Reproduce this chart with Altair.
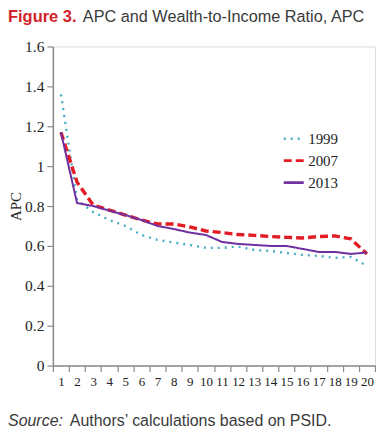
import altair as alt
import pandas as pd

deciles = list(range(1, 21))
years = ["1999", "2007", "2013"]
apc_1999 = [1.36, 0.83, 0.77, 0.73, 0.70, 0.655, 0.63, 0.617, 0.605, 0.59,
            0.59, 0.597, 0.58, 0.575, 0.565, 0.555, 0.55, 0.54, 0.545, 0.50]
apc_2007 = [1.17, 0.92, 0.805, 0.78, 0.755, 0.73, 0.71, 0.71, 0.695, 0.675,
            0.667, 0.657, 0.653, 0.647, 0.643, 0.64, 0.647, 0.65, 0.635, 0.56]
apc_2013 = [1.17, 0.815, 0.80, 0.777, 0.755, 0.73, 0.70, 0.685, 0.667, 0.655,
            0.62, 0.61, 0.605, 0.60, 0.60, 0.585, 0.57, 0.57, 0.56, 0.567]
y_ticks = [0, 0.2, 0.4, 0.6, 0.8, 1, 1.2, 1.4, 1.6]

rows = []
for yr, vals in zip(years, [apc_1999, apc_2007, apc_2013]):
    for d, v in zip(deciles, vals):
        rows.append({"decile": d, "APC": v, "year": yr})
df = pd.DataFrame(rows)

colors = ["#4bacc6", "#e31b23", "#7030a0"]
dashes = [[2, 5], [8, 4], [1, 0]]
widths = [2.4, 3.4, 2]

SERIF = "Liberation Serif"
SANS = "Liberation Sans"

base = alt.Chart(df).encode(
    x=alt.X("decile:O",
            scale=alt.Scale(paddingInner=0, paddingOuter=0),
            axis=alt.Axis(title=None, labelAngle=0, tickBand="extent",
                          labelFont=SERIF, labelFontSize=13, labelColor="#222",
                          domainColor="#8a8a8a", domainWidth=1.5,
                          tickColor="#8a8a8a", tickWidth=1.2, tickSize=6,
                          labelPadding=4)),
    y=alt.Y("APC:Q",
            scale=alt.Scale(domain=[0, 1.6], nice=False, zero=True),
            axis=alt.Axis(title="APC", values=y_ticks, grid=False,
                          labelExpr="'' + datum.value",
                          labelFont=SERIF, labelFontSize=15.5, labelColor="#222",
                          titleFont=SERIF, titleFontSize=15, titleFontWeight="normal",
                          titleColor="#222", titleX=-37.5, titleBaseline="middle",
                          domainColor="#8a8a8a", domainWidth=1.5,
                          tickColor="#8a8a8a", tickWidth=1.2, tickSize=6,
                          labelPadding=3)),
    color=alt.Color("year:N", scale=alt.Scale(domain=years, range=colors),
                    legend=alt.Legend(title=None, orient="none", legendX=230, legendY=81,
                                      symbolType="stroke", symbolSize=400,
                                      symbolStrokeWidth=2.6,
                                      labelFont=SERIF, labelFontSize=15,
                                      labelColor="#222", rowPadding=2,
                                      labelOffset=3)),
    strokeDash=alt.StrokeDash("year:N", scale=alt.Scale(domain=years, range=dashes)),
)

line_layers = [
    base.transform_filter(alt.datum.year == yr).mark_line(strokeCap="butt", strokeWidth=w)
    for yr, w in zip(years, widths)
]

title1 = alt.Chart(pd.DataFrame({"t": ["Figure 3."]})).mark_text(
    align="left", baseline="top", font=SANS, fontSize=16.5,
    fontWeight="bold", color="#d2232a"
).encode(x=alt.value(-45), y=alt.value(-38), text="t:N")

title2 = alt.Chart(pd.DataFrame({"t": ["APC and Wealth-to-Income Ratio, APC"]})).mark_text(
    align="left", baseline="top", font=SANS, fontSize=16.3,
    color="#3a3a3a"
).encode(x=alt.value(30), y=alt.value(-38), text="t:N")

src1 = alt.Chart(pd.DataFrame({"t": ["Source:"]})).mark_text(
    align="left", baseline="bottom", font=SANS, fontSize=16,
    fontStyle="italic", color="#3a3a3a"
).encode(x=alt.value(-45), y=alt.value(384), text="t:N")

src2 = alt.Chart(pd.DataFrame({"t": ["Authors’ calculations based on PSID."]})).mark_text(
    align="left", baseline="bottom", font=SANS, fontSize=16,
    color="#3a3a3a"
).encode(x=alt.value(17), y=alt.value(384), text="t:N")

chart = alt.layer(*line_layers, title1, title2, src1, src2).properties(
    width=323, height=320, padding={"left": 0, "top": 0, "right": 0, "bottom": 0}
).configure_view(stroke=None).configure(background="white")

chart.save("out.html", embed_options={"renderer": "svg", "actions": False})
